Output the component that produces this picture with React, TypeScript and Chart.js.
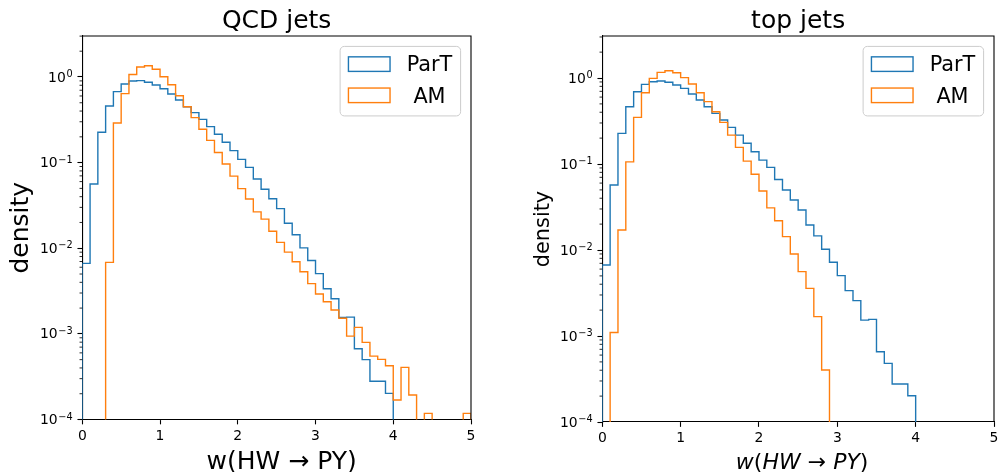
import React, { useEffect, useRef } from "react";
import { Chart, registerables } from "chart.js";

Chart.register(...registerables);

// ---------------- data ----------------
const BIN_EDGES = [
  0.0, 0.1, 0.2, 0.3, 0.4, 0.5, 0.6, 0.7, 0.8, 0.9,
  1.0, 1.1, 1.2, 1.3, 1.4, 1.5, 1.6, 1.7, 1.8, 1.9,
  2.0, 2.1, 2.2, 2.3, 2.4, 2.5, 2.6, 2.7, 2.8, 2.9,
  3.0, 3.1, 3.2, 3.3, 3.4, 3.5, 3.6, 3.7, 3.8, 3.9,
  4.0, 4.1, 4.2, 4.3, 4.4, 4.5, 4.6, 4.7, 4.8, 4.9, 5.0,
];

const X_TICKS = [0, 1, 2, 3, 4, 5];
const Y_TICKS = [1e-4, 1e-3, 1e-2, 1e-1, 1];
const Y_TICK_EXPONENTS = ["\u22124", "\u22123", "\u22122", "\u22121", "0"];

const SERIES_NAMES = ["ParT", "AM"];
const SERIES_COLORS = ["#1f77b4", "#ff7f0e"];

const QCD_PART = [
  0.00665, 0.0562, 0.226, 0.458, 0.674, 0.828, 0.898, 0.906, 0.867, 0.806,
  0.73, 0.633, 0.539, 0.45, 0.383, 0.32, 0.263, 0.214, 0.173, 0.138,
  0.109, 0.088, 0.0643, 0.0488, 0.0378, 0.029, 0.0196, 0.0144, 0.0101, 0.0072,
  0.00505, 0.00337, 0.00257, 0.00156, 0.00157, 0.00067, 0.0005, 0.00028, 0.00028, 0.000202,
  0, 0, 0, 0, 0, 0, 0, 0, 0, 0,
];

const QCD_AM = [
  0, 0, 0, 0.00684, 0.29, 0.64, 1.07, 1.31, 1.355, 1.23,
  1.005, 0.81, 0.603, 0.45, 0.335, 0.245, 0.182, 0.131, 0.0964, 0.0695,
  0.0497, 0.0376, 0.0266, 0.0219, 0.0158, 0.0117, 0.009, 0.00696, 0.00532, 0.00386,
  0.00292, 0.00237, 0.0019, 0.00152, 0.00094, 0.00119, 0.000795, 0.00055, 0.000504, 0.000425,
  0.000169, 0.000406, 0.000193, 0, 0.000118, 0, 0, 0, 0, 0.000118,
];

const TOP_PART = [
  0.0067, 0.057, 0.227, 0.464, 0.693, 0.844, 0.906, 0.923, 0.891, 0.829,
  0.758, 0.652, 0.555, 0.464, 0.388, 0.325, 0.267, 0.217, 0.174, 0.139,
  0.111, 0.0914, 0.066, 0.0499, 0.0381, 0.0292, 0.0195, 0.0146, 0.0102, 0.0072,
  0.00503, 0.00337, 0.00258, 0.00153, 0.00156, 0.000657, 0.000481, 0.000277, 0.000277, 0.000202,
  0, 0, 0, 0, 0, 0, 0, 0, 0, 0,
];

const TOP_AM = [
  0, 0.0011, 0.0171, 0.106, 0.349, 0.675, 0.99, 1.164, 1.216, 1.153,
  1.01, 0.852, 0.675, 0.531, 0.406, 0.305, 0.217, 0.156, 0.108, 0.0759,
  0.0485, 0.0309, 0.0219, 0.0143, 0.009, 0.0056, 0.00358, 0.00168, 0.000403, 0,
  0, 0, 0, 0, 0, 0, 0, 0, 0, 0,
  0, 0, 0, 0, 0, 0, 0, 0, 0, 0,
];

// ---------------- helpers ----------------
const FONT = '"DejaVu Sans", "Liberation Sans", sans-serif';
const font = (size: number, italic = false) => `${italic ? "italic " : ""}${size}px ${FONT}`;

const LOG_FLOOR = 1e-12; // empty bins fall below the axis (clipped), like matplotlib

function stepPoints(values: number[]) {
  const pts: { x: number; y: number }[] = [];
  const yv = (v: number) => (v > 0 ? v : LOG_FLOOR);
  pts.push({ x: BIN_EDGES[0], y: LOG_FLOOR });
  values.forEach((v, i) => pts.push({ x: BIN_EDGES[i], y: yv(v) }));
  const lastEdge = BIN_EDGES[BIN_EDGES.length - 1];
  pts.push({ x: lastEdge, y: yv(values[values.length - 1]) });
  pts.push({ x: lastEdge, y: LOG_FLOOR });
  return pts;
}

type Seg = { t: string; it: boolean };

type PanelCfg = {
  title: string;
  series: number[][];
  canvasLeft: number;
  canvasWidth: number;
  padRight: number;
  plotLeft: number;
  plotBottom: number;
  ymax: number;
  xlabel: Seg[];
  xlabelSize: number;
  xlabelBaseline: number;
  xlabelDx: number;
  ylabelSize: number;
  ylabelX: number;
};

function drawSegs(ctx: CanvasRenderingContext2D, segs: Seg[], size: number, cx: number, baseline: number) {
  let total = 0;
  const widths = segs.map((s) => {
    ctx.font = font(size, s.it);
    const w = ctx.measureText(s.t).width;
    total += w;
    return w;
  });
  let x = cx - total / 2;
  ctx.textAlign = "left";
  ctx.textBaseline = "alphabetic";
  segs.forEach((s, i) => {
    ctx.font = font(size, s.it);
    ctx.fillText(s.t, x, baseline);
    x += widths[i];
  });
}

function makeDecor(cfg: PanelCfg) {
  return {
    id: "decor",
    afterDraw(chart: any) {
      const ctx: CanvasRenderingContext2D = chart.ctx;
      const { left, right, top, bottom } = chart.chartArea;
      const xs = chart.scales.x;
      const ys = chart.scales.y;
      ctx.save();

      // top & right spines
      ctx.strokeStyle = "#000";
      ctx.lineWidth = 1.1;
      ctx.beginPath();
      ctx.moveTo(left, top);
      ctx.lineTo(right, top);
      ctx.lineTo(right, bottom);
      ctx.stroke();

      // minor log ticks
      ctx.lineWidth = 0.83;
      ctx.beginPath();
      for (const major of Y_TICKS) {
        for (let k = 2; k <= 9; k++) {
          const v = k * major;
          if (v > ys.max) continue;
          const y = ys.getPixelForValue(v);
          ctx.moveTo(left, y);
          ctx.lineTo(left - 2.78, y);
        }
      }
      ctx.stroke();

      ctx.fillStyle = "#000";
      // y tick labels (10^n)
      Y_TICKS.forEach((v, i) => {
        const y = ys.getPixelForValue(v);
        ctx.font = font(13.9);
        const w1 = ctx.measureText("10").width;
        ctx.font = font(9.73);
        const w2 = ctx.measureText(Y_TICK_EXPONENTS[i]).width;
        const xr = left - 9.72;
        const x0 = xr - w1 - w2 - 0.6;
        ctx.textAlign = "left";
        ctx.textBaseline = "alphabetic";
        ctx.font = font(13.9);
        ctx.fillText("10", x0, y + 4.6);
        ctx.font = font(9.73);
        ctx.fillText(Y_TICK_EXPONENTS[i], x0 + w1 + 0.6, y + 4.6 - 4.4);
      });

      // x tick labels
      ctx.font = font(13.9);
      ctx.textAlign = "center";
      ctx.textBaseline = "alphabetic";
      X_TICKS.forEach((v) => {
        ctx.fillText(String(v), xs.getPixelForValue(v), bottom + 20.3);
      });

      // title
      ctx.font = font(25);
      ctx.textAlign = "center";
      ctx.fillText(cfg.title, (left + right) / 2, 28);

      // x label
      drawSegs(ctx, cfg.xlabel, cfg.xlabelSize, (left + right) / 2 + cfg.xlabelDx, cfg.xlabelBaseline);

      // y label
      ctx.save();
      ctx.translate(cfg.ylabelX, (top + bottom) / 2);
      ctx.rotate(-Math.PI / 2);
      ctx.font = font(cfg.ylabelSize);
      ctx.textAlign = "center";
      ctx.textBaseline = "alphabetic";
      ctx.fillText("density", 0, 0);
      ctx.restore();

      // legend
      const fs = 20.8;
      const pad = 0.4 * fs;
      const axpad = 0.5 * fs;
      const pitch = 31.2;
      const hl = 2.0 * fs;
      const hh = 0.7 * fs;
      const htp = 0.8 * fs;
      ctx.font = font(fs);
      const textW = Math.max(...SERIES_NAMES.map((n) => ctx.measureText(n).width));
      const boxW = 2 * pad + hl + htp + textW;
      const boxRight = right - axpad;
      const boxLeft = boxRight - boxW;
      const boxTop = top + axpad;
      const base0 = boxTop + 25;
      const boxBottom = base0 + (SERIES_NAMES.length - 1) * pitch + 5 + pad;
      const r = 4.2;
      ctx.beginPath();
      ctx.moveTo(boxLeft + r, boxTop);
      ctx.lineTo(boxRight - r, boxTop);
      ctx.arcTo(boxRight, boxTop, boxRight, boxTop + r, r);
      ctx.lineTo(boxRight, boxBottom - r);
      ctx.arcTo(boxRight, boxBottom, boxRight - r, boxBottom, r);
      ctx.lineTo(boxLeft + r, boxBottom);
      ctx.arcTo(boxLeft, boxBottom, boxLeft, boxBottom - r, r);
      ctx.lineTo(boxLeft, boxTop + r);
      ctx.arcTo(boxLeft, boxTop, boxLeft + r, boxTop, r);
      ctx.closePath();
      ctx.fillStyle = "rgba(255,255,255,0.8)";
      ctx.fill();
      ctx.strokeStyle = "#cccccc";
      ctx.lineWidth = 1.0;
      ctx.stroke();

      SERIES_NAMES.forEach((name, i) => {
        const base = base0 + i * pitch;
        ctx.strokeStyle = SERIES_COLORS[i];
        ctx.lineWidth = 1.4;
        ctx.strokeRect(boxLeft + pad, base - hh, hl, hh);
        ctx.fillStyle = "#000";
        ctx.font = font(fs);
        ctx.textAlign = "center";
        ctx.textBaseline = "alphabetic";
        ctx.fillText(name, boxLeft + pad + hl + htp + textW / 2, base);
      });

      ctx.restore();
    },
  };
}

function Panel({ cfg }: { cfg: PanelCfg }) {
  const ref = useRef<HTMLCanvasElement | null>(null);
  useEffect(() => {
    if (!ref.current) return;
    const H = 472;
    const chart = new Chart(ref.current, {
      type: "line",
      data: {
        datasets: cfg.series.map((vals, i) => ({
          label: SERIES_NAMES[i],
          data: stepPoints(vals),
          borderColor: SERIES_COLORS[i],
          backgroundColor: SERIES_COLORS[i],
          borderWidth: 1.4,
          pointRadius: 0,
          stepped: "before" as const,
          fill: false,
          clip: 0,
          order: SERIES_NAMES.length - i,
        })),
      },
      options: {
        responsive: false,
        animation: false,
        devicePixelRatio: 1,
        events: [],
        layout: { padding: { left: 0, right: cfg.padRight, top: 36, bottom: 0 } },
        plugins: {
          legend: { display: false },
          title: { display: false },
          tooltip: { enabled: false },
        },
        scales: {
          x: {
            type: "linear",
            position: "bottom",
            bounds: "data",
            min: 0,
            max: 5,
            ticks: { display: false },
            afterBuildTicks: (s: any) => {
              s.ticks = X_TICKS.map((v) => ({ value: v }));
            },
            afterFit: (s: any) => {
              s.height = H - cfg.plotBottom;
            },
            grid: {
              display: true,
              drawOnChartArea: false,
              drawTicks: true,
              tickLength: 4.86,
              tickWidth: 1.1,
              tickColor: "#000",
              color: "#000",
            },
            border: { display: true, color: "#000", width: 1.1 },
          },
          y: {
            type: "logarithmic",
            bounds: "data",
            min: 1e-4,
            max: cfg.ymax,
            ticks: { display: false },
            afterBuildTicks: (s: any) => {
              s.ticks = Y_TICKS.map((v) => ({ value: v, major: true }));
            },
            afterFit: (s: any) => {
              s.width = cfg.plotLeft;
            },
            grid: {
              display: true,
              drawOnChartArea: false,
              drawTicks: true,
              tickLength: 4.86,
              tickWidth: 1.1,
              tickColor: "#000",
              color: "#000",
            },
            border: { display: true, color: "#000", width: 1.1 },
          },
        },
      } as any,
      plugins: [makeDecor(cfg)],
    });
    return () => chart.destroy();
  }, []);
  return (
    <canvas
      ref={ref}
      width={cfg.canvasWidth}
      height={472}
      style={{ position: "absolute", left: cfg.canvasLeft, top: 0, width: cfg.canvasWidth, height: 472 }}
    />
  );
}

const LEFT: PanelCfg = {
  title: "QCD jets",
  series: [QCD_PART, QCD_AM],
  canvasLeft: 0,
  canvasWidth: 520,
  padRight: 49,
  plotLeft: 82.3,
  plotBottom: 419.5,
  ymax: 3.01,
  xlabel: [{ t: "w(HW \u2192 PY)", it: false }],
  xlabelSize: 25,
  xlabelBaseline: 468.5,
  xlabelDx: 5,
  ylabelSize: 25,
  ylabelX: 27.8,
};

const RIGHT: PanelCfg = {
  title: "top jets",
  series: [TOP_PART, TOP_AM],
  canvasLeft: 520,
  canvasWidth: 479,
  padRight: 5,
  plotLeft: 82.3,
  plotBottom: 422,
  ymax: 3.08,
  xlabel: [
    { t: "w", it: true },
    { t: "(", it: false },
    { t: "HW", it: true },
    { t: " \u2192 ", it: false },
    { t: "PY", it: true },
    { t: ")", it: false },
  ],
  xlabelSize: 22,
  xlabelBaseline: 469,
  xlabelDx: 4,
  ylabelSize: 20.8,
  ylabelX: 29,
};

export default function App() {
  return (
    <div
      style={{
        position: "fixed",
        left: 0,
        top: 0,
        width: 999,
        height: 472,
        background: "#ffffff",
        overflow: "hidden",
      }}
    >
      <Panel cfg={LEFT} />
      <Panel cfg={RIGHT} />
    </div>
  );
}
